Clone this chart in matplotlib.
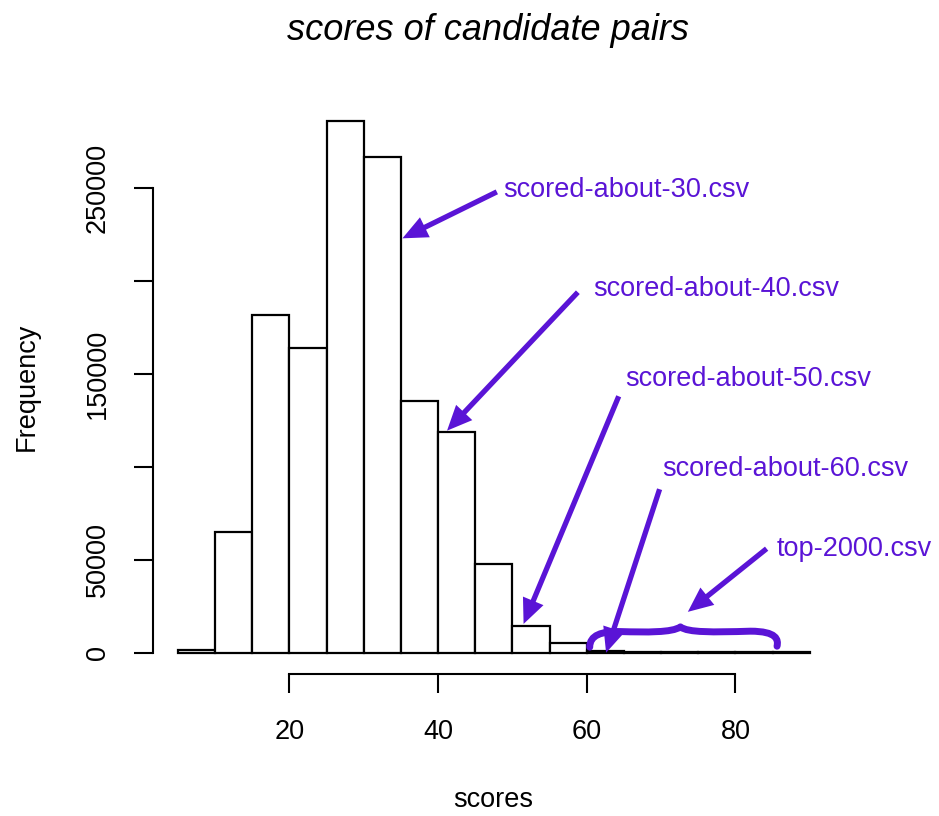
import matplotlib
matplotlib.use("Agg")
import matplotlib.pyplot as plt
from matplotlib.path import Path
from matplotlib.patches import PathPatch

plt.rcParams["font.family"] = ["Liberation Sans", "DejaVu Sans"]

# histogram of scores, bins of width 5
bin_edges = [5, 10, 15, 20, 25, 30, 35, 40, 45, 50, 55, 60, 65, 70, 75, 80, 85, 90]
counts = [1500, 65000, 182000, 164000, 286000, 267000, 135500, 119000,
          48000, 14500, 5400, 1200, 500, 400, 300, 200, 150]

x_ticks = [20, 40, 60, 80]
y_ticks = [0, 50000, 150000, 250000]

# annotations: label, text position, arrow tail, arrow head
labels = ["scored-about-30.csv", "scored-about-40.csv", "scored-about-50.csv",
          "scored-about-60.csv", "top-2000.csv"]
label_xy = [(48.7, 249000), (60.8, 195500), (65.2, 147500), (70.1, 99000), (85.6, 56000)]
arrow_tail = [(47.9, 248000), (58.8, 194000), (64.3, 138000), (69.8, 88000), (84.2, 56000)]
arrow_head = [(35.2, 223000), (41.2, 119500), (51.5, 15500), (62.6, 0), (73.6, 22000)]

purple = "#5a14d6"

fig = plt.figure(figsize=(9.39, 8.16), dpi=100)
ax = fig.add_axes([152.7 / 939, 1 - 674 / 816, (835 - 152.7) / 939, (674 - 100) / 816])

widths = [b - a for a, b in zip(bin_edges[:-1], bin_edges[1:])]
ax.bar(bin_edges[:-1], counts, width=widths, align="edge",
       facecolor="white", edgecolor="black", linewidth=1.6)

pad_x = 0.04 * (bin_edges[-1] - bin_edges[0])
ax.set_xlim(bin_edges[0] - pad_x, bin_edges[-1] + pad_x)
ax.set_ylim(-0.04 * max(counts), 1.04 * max(counts))

for s in ["top", "right"]:
    ax.spines[s].set_visible(False)
ax.spines["left"].set_bounds(y_ticks[0], y_ticks[-1])
ax.spines["bottom"].set_bounds(x_ticks[0], x_ticks[-1])
ax.spines["left"].set_linewidth(1.5)
ax.spines["bottom"].set_linewidth(1.5)

ax.set_xticks(x_ticks)
ax.set_yticks([0, 50000, 100000, 150000, 200000, 250000])
ax.set_yticklabels(["0", "50000", "", "150000", "", "250000"])
ax.tick_params(axis="both", direction="out", length=13.7, width=1.5, labelsize=19.5)
ax.tick_params(axis="x", pad=19)
ax.tick_params(axis="y", pad=16.5, labelrotation=90)
for t in ax.get_yticklabels():
    t.set_va("center")

fig.text(488 / 939, 1 - 30 / 816, "scores of candidate pairs", fontsize=26,
         style="italic", ha="center", va="center")
fig.text(493 / 939, 1 - 800 / 816, "scores", fontsize=19.5, ha="center", va="center")
fig.text(27 / 939, 1 - 387 / 816, "Frequency", fontsize=19.5, ha="center",
         va="center", rotation=90)

for lab, txy, tail, head in zip(labels, label_xy, arrow_tail, arrow_head):
    ax.text(txy[0], txy[1], lab, color=purple, fontsize=19.5, ha="left", va="center")
    ax.annotate("", xy=head, xytext=tail,
                arrowprops=dict(arrowstyle="simple,head_length=0.9,head_width=0.8,tail_width=0.19",
                                facecolor=purple, edgecolor="none", mutation_scale=20,
                                shrinkA=0, shrinkB=0))

# curly brace over the top scores
brace = Path(
    [(60.4, 3000), (60.4, 9500), (62.0, 11600), (64.5, 11400),
     (68.0, 11000), (71.5, 10800), (72.6, 13900),
     (73.6, 10800), (77.0, 11000), (82.0, 11600),
     (85.6, 11600), (85.8, 7000), (85.6, 3500)],
    [Path.MOVETO, Path.CURVE4, Path.CURVE4, Path.CURVE4,
     Path.CURVE4, Path.CURVE4, Path.CURVE4,
     Path.CURVE4, Path.CURVE4, Path.CURVE4,
     Path.CURVE4, Path.CURVE4, Path.CURVE4])
ax.add_patch(PathPatch(brace, facecolor="none", edgecolor=purple, lw=5,
                       capstyle="round", joinstyle="round", clip_on=False))

fig.savefig("out.png", dpi=100)
